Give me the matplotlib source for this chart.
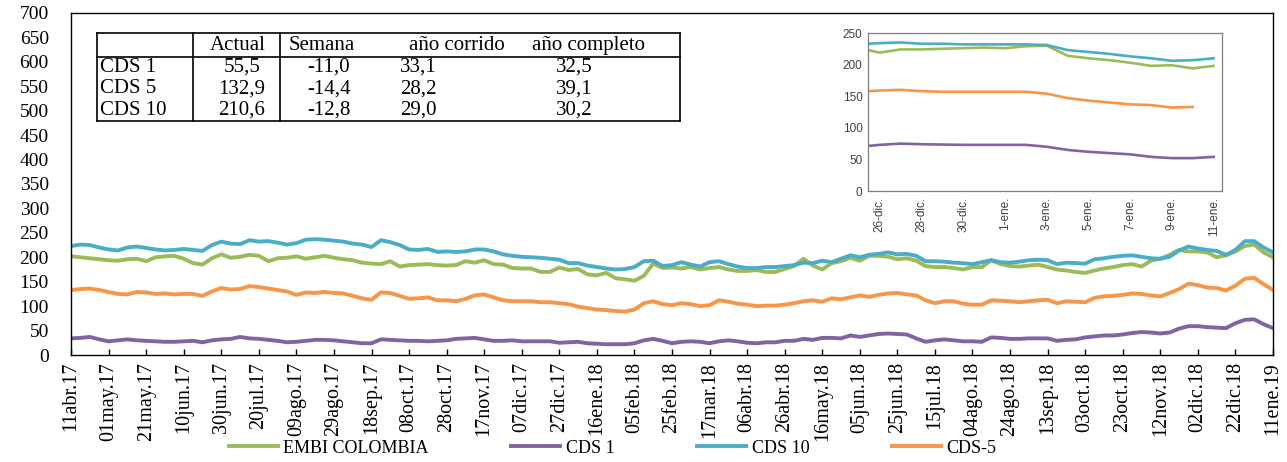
import numpy as np
import pandas as pd
import matplotlib
matplotlib.use('Agg')
import matplotlib.pyplot as plt
from matplotlib.lines import Line2D

# ---------------- data ----------------
start_date = '2017-04-11'
step = '5D'

embi = [202,200,198,196,194,193,196,197,192,200,202,203,197,188,185,198,206,199,201,205,203,192,198,199,202,197,
        200,203,199,196,194,189,187,186,192,181,184,185,186,184,183,184,192,189,194,186,185,178,177,177,170,
        170,179,174,176,165,163,168,157,155,152,162,187,178,179,177,180,175,178,180,175,172,172,174,170,170,
        176,182,197,183,175,188,192,199,193,203,203,201,196,198,193,182,180,180,178,175,180,180,194,186,182,
        181,183,185,180,175,173,170,168,173,177,180,184,186,181,193,197,205,215,212,212,210,200,204,212,223,226,210,200]

cds1 = [34,35,37,32,28,30,32,30,29,28,27,27,28,29,26,30,32,33,37,34,33,31,29,26,27,29,
        31,31,30,28,26,24,24,32,31,30,29,29,28,29,30,33,34,35,32,29,29,30,28,28,28,
        28,25,26,27,24,23,22,22,22,24,30,33,29,24,27,28,27,24,28,30,28,25,24,26,26,
        29,29,33,31,35,35,34,40,37,40,43,44,43,42,34,27,30,32,30,28,28,27,36,35,33,
        33,34,34,34,29,31,32,36,38,40,40,42,45,47,46,44,46,54,59,59,57,56,55,65,72,73,63,55]

cds10 = [223,226,225,220,216,214,220,222,219,216,214,215,217,215,213,225,232,228,227,235,232,233,230,226,229,236,
         237,236,234,232,228,226,221,235,231,225,216,215,217,211,212,211,212,216,216,212,206,203,201,200,199,
         197,195,188,188,183,180,177,175,176,180,192,193,182,184,190,185,181,190,192,186,181,178,178,180,180,
         182,184,189,188,193,190,197,204,200,205,207,210,206,207,203,192,192,191,189,188,186,190,194,190,189,
         191,194,195,194,186,189,188,187,196,198,201,203,204,201,198,197,201,214,222,218,215,213,205,215,233,233,220,210]

cds5 = [133,135,136,133,129,125,124,129,128,125,126,124,125,125,121,130,137,134,135,141,139,136,133,130,123,128,
        127,129,127,126,121,116,113,128,127,121,115,116,118,112,112,110,115,122,124,118,112,110,110,110,108,
        108,106,104,99,96,93,92,90,89,93,106,110,104,102,106,104,100,102,112,109,105,103,100,101,101,
        103,106,110,112,109,116,114,118,122,119,123,126,127,124,122,112,106,110,110,105,103,103,112,111,110,
        108,110,112,113,106,110,109,108,117,120,121,123,126,125,122,120,127,135,146,143,138,137,132,142,156,158,145,133]

series_names = ['EMBI COLOMBIA', 'CDS 1', 'CDS 10', 'CDS-5']
series_colors = ['#9BBB59', '#8064A2', '#4BACC6', '#F79646']

x_tick_labels = ["11abr.17","01may.17","21may.17","10jun.17","30jun.17","20jul.17","09ago.17","29ago.17",
                 "18sep.17","08oct.17","28oct.17","17nov.17","07dic.17","27dic.17","16ene.18","05feb.18",
                 "25feb.18","17mar.18","06abr.18","26abr.18","16may.18","05jun.18","25jun.18","15jul.18",
                 "04ago.18","24ago.18","13sep.18","03oct.18","23oct.18","12nov.18","02dic.18","22dic.18","11ene.19"]

# inset (25-dic-2018 .. 11-ene-2019, daily)
inset_start = '2018-12-25'
inset_embi = [226,219,224,224,225,226,227,226,229,230,214,210,207,203,198,199,194,198]
inset_cds10 = [232,234,235,233,233,232,232,232,232,231,223,220,217,213,210,206,207,210]
inset_cds5 = [157,159,160,158,157,157,157,157,157,154,147,143,140,137,136,132,133,np.nan]
inset_cds1 = [70,73,75,74,73.5,73,73,73,73,70,65,62,60,58,54,52,52,54]
inset_tick_labels = ['26-dic.','28-dic.','30-dic.','1-ene.','3-ene.','5-ene.','7-ene.','9-ene.','11-ene.']

# table
table_header = ['', 'Actual', 'Semana', 'año corrido', 'año completo']
table_rows = ['CDS 1', 'CDS 5', 'CDS 10']
table_actual = ['55,5', '132,9', '210,6']
table_semana = ['-11,0', '-14,4', '-12,8']
table_corrido = ['33,1', '28,2', '29,0']
table_completo = ['32,5', '39,1', '30,2']

# ---------------- figure ----------------
serif = ['Liberation Serif', 'DejaVu Serif']
sans = ['Liberation Sans', 'DejaVu Sans']
plt.rcParams['font.family'] = serif

fig = plt.figure(figsize=(12.87, 4.62), dpi=100)
ax = fig.add_axes([0.0552, 0.2316, 0.9339, 0.7403])

dates = pd.date_range(start_date, periods=len(embi), freq=step)
tick_dates = pd.date_range(start_date, periods=len(x_tick_labels), freq='20D')

handles = []
for vals, col, name in zip([embi, cds1, cds10, cds5], series_colors, series_names):
    h, = ax.plot(dates, vals, color=col, lw=2.8, solid_joinstyle='round', label=name)
    handles.append(h)

ax.set_xlim(dates[0], dates[-1])
ax.set_ylim(0, 700)
ax.set_yticks(np.arange(0, 701, 50))
ax.set_xticks(tick_dates)
ax.set_xticklabels(x_tick_labels, rotation=90, fontsize=14.5)
ax.tick_params(axis='x', direction='in', length=4, width=1, pad=5)
ax.tick_params(axis='y', length=0, pad=16, labelsize=14)
for s in ax.spines.values():
    s.set_linewidth(1.0)
    s.set_color('black')

# legend
fig.legend(handles, series_names, loc='center', bbox_to_anchor=(0.476, 0.03), ncol=4,
           frameon=False, handlelength=2.7, handletextpad=0.3, columnspacing=4.6,
           prop={'family': serif, 'size': 13})

# ---------------- table ----------------
W, H = 1287.0, 462.0
def fx(px): return px / W
def fy(py): return 1 - py / H

tl, tr = 96.5, 680
tt, th, tb = 33.3, 56.5, 121.2
v1, v2 = 193.5, 279.5
lw_t = 1.2
def hline(y, x0=tl, x1=tr):
    fig.add_artist(Line2D([fx(x0), fx(x1)], [fy(y), fy(y)], transform=fig.transFigure, color='black', lw=lw_t))
def vline(x, y0=tt, y1=tb):
    fig.add_artist(Line2D([fx(x), fx(x)], [fy(y0), fy(y1)], transform=fig.transFigure, color='black', lw=lw_t))
hline(tt); hline(th); hline(tb)
vline(tl); vline(tr); vline(v1); vline(v2)

row_h = (tb - th) / 3
header_y = (tt + th) / 2 + 0.5
col_centers = [None, 238, 322, 457, 588]
for txt, cx in zip(table_header[1:], col_centers[1:]):
    fig.text(fx(cx), fy(header_y), txt, ha='center', va='center', fontsize=15, family=serif)
val_centers = [242, 329, 418, 574]
for i, name in enumerate(table_rows):
    yc = th + row_h * (i + 0.5)
    fig.text(fx(100), fy(yc), name, ha='left', va='center', fontsize=15, family=serif)
    for col_vals, cx in zip([table_actual, table_semana, table_corrido, table_completo], val_centers):
        fig.text(fx(cx), fy(yc), col_vals[i], ha='center', va='center', fontsize=15, family=serif)

# ---------------- inset ----------------
ax2 = fig.add_axes([fx(868), fy(191), fx(1222) - fx(868), (191 - 33) / H])
ax2.set_facecolor('white')
idates = pd.date_range(inset_start, periods=len(inset_embi), freq='D')
for vals, col in zip([inset_embi, inset_cds1, inset_cds10, inset_cds5], series_colors):
    ax2.plot(idates, vals, color=col, lw=1.9)
ax2.set_ylim(0, 250)
ax2.set_yticks(np.arange(0, 251, 50))
ax2.set_xlim(idates[0] + pd.Timedelta(hours=10.5), idates[-1] + pd.Timedelta(hours=9.6))
ax2.set_xticks(idates[1::2])
ax2.set_xticklabels(inset_tick_labels, rotation=90)
ax2.tick_params(length=0, labelsize=8.5, colors='#404040', pad=4)
for lab in ax2.get_xticklabels() + ax2.get_yticklabels():
    lab.set_family(sans)
for s in ax2.spines.values():
    s.set_color('#7f7f7f')
    s.set_linewidth(0.9)

fig.savefig('out.png', dpi=100)
